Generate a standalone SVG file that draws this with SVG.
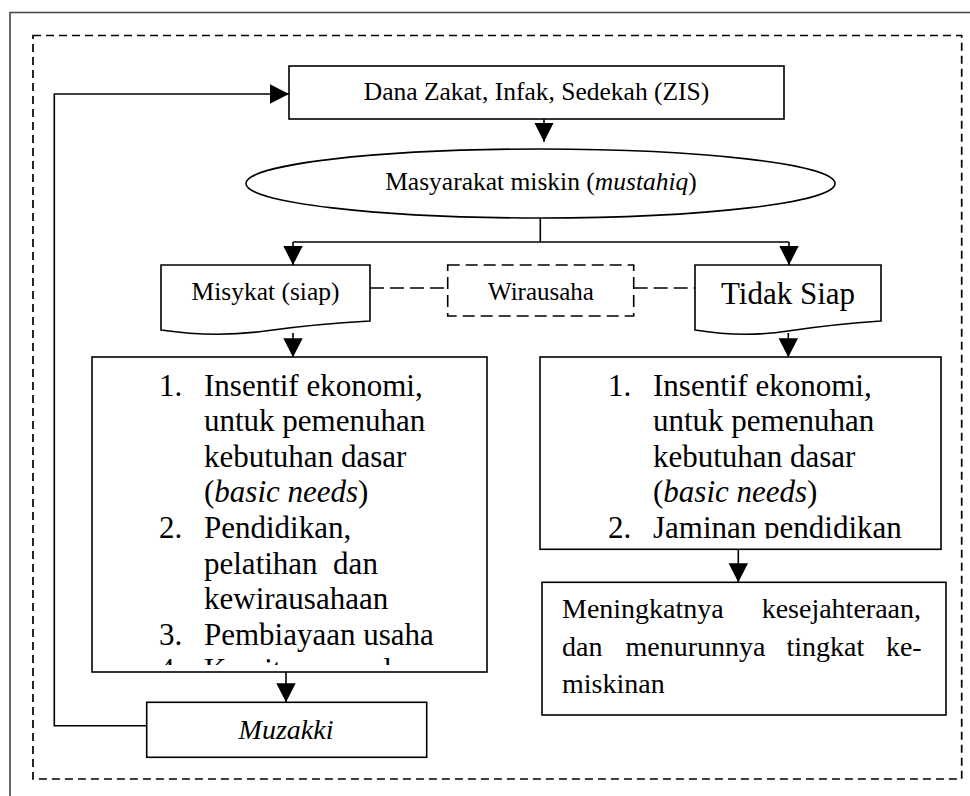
<svg xmlns="http://www.w3.org/2000/svg" width="970" height="796" viewBox="0 0 970 796">
<style>
text{font-family:"Liberation Serif","Times New Roman",serif;fill:#000;white-space:pre}
.s{fill:#fff;stroke:#000;stroke-width:1.6}
.c{fill:none;stroke:#000;stroke-width:1.6}
.d{fill:none;stroke:#000;stroke-width:1.6;stroke-dasharray:14 6}
.f25{font-size:25.5px}
.f31{font-size:31px}
.f28{font-size:28px}
.m{text-anchor:middle}
.e{text-anchor:end}
</style>
<defs>
<marker id="ah" markerUnits="userSpaceOnUse" markerWidth="20" markerHeight="20" refX="19" refY="9.7" orient="auto">
<path d="M0,0 L19,9.7 L0,19.4 Z" fill="#000"/>
</marker>
<clipPath id="clipL"><rect x="92" y="357" width="395" height="308"/></clipPath>
<clipPath id="clipR"><rect x="540" y="357" width="401" height="181.5"/></clipPath>
</defs>
<rect width="970" height="796" fill="#fff"/>
<path d="M10,800 V12.5 H975" fill="none" stroke="#444" stroke-width="1.6"/>
<rect x="33" y="35.5" width="928.7" height="743.5" fill="none" stroke="#000" stroke-width="1.7" stroke-dasharray="8 5"/>

<g id="connectors">
<path class="c" d="M544,119 V141.7" marker-end="url(#ah)"/>
<path class="c" d="M540.3,218 V242 M293,242 H789"/>
<path class="c" d="M293,242 V265" marker-end="url(#ah)"/>
<path class="c" d="M789,242 V265" marker-end="url(#ah)"/>
<path class="d" d="M370,288 H447.7"/>
<path class="d" d="M633.7,288 H695"/>
<path class="c" d="M293,333 V357.3" marker-end="url(#ah)"/>
<path class="c" d="M788.3,333 V357.3" marker-end="url(#ah)"/>
<path class="c" d="M286,672 V702.3" marker-end="url(#ah)"/>
<path class="c" d="M738.3,549.3 V582.3" marker-end="url(#ah)"/>
<path class="c" d="M146.7,725.7 H54.3 V94 H289" marker-end="url(#ah)"/>
</g>

<g id="dana">
<rect class="s" x="289" y="66" width="495" height="53"/>
<text class="f25 m" x="536.5" y="100">Dana Zakat, Infak, Sedekah (ZIS)</text>
</g>

<g id="masyarakat">
<ellipse class="s" cx="540.5" cy="183.5" rx="294.5" ry="34.5"/>
<text class="f25 m" x="541" y="190">Masyarakat miskin (<tspan font-style="italic">mustahiq</tspan>)</text>
</g>

<g id="misykat">
<path class="s" d="M161,330 V265 H370 V321 Q315,324 265,331 Q215,338 161,330 Z"/>
<text class="f25 m" x="265.5" y="299.5">Misykat (siap)</text>
</g>

<g id="wirausaha">
<rect x="447.7" y="265" width="186" height="51" fill="#fff" stroke="#000" stroke-width="1.6" stroke-dasharray="12 6"/>
<text class="m" style="font-size:25px" x="541" y="299.5">Wirausaha</text>
</g>

<g id="tidak-siap">
<path class="s" d="M695,330 V265 H881 V321 Q835,324 788,331 Q743,338 695,330 Z"/>
<text class="f31 m" x="788" y="303.5">Tidak Siap</text>
</g>

<g id="list-left">
<rect class="s" x="92" y="357" width="395" height="315"/>
<g clip-path="url(#clipL)" class="f31">
<text x="159" y="395.5">1.</text>
<text x="204" y="395.5">Insentif ekonomi,</text>
<text x="204" y="431.1">untuk pemenuhan</text>
<text x="204" y="466.7">kebutuhan dasar</text>
<text x="204" y="502.3">(<tspan font-style="italic">basic needs</tspan>)</text>
<text x="159" y="537.9">2.</text>
<text x="204" y="537.9">Pendidikan,</text>
<text x="204" y="573.5">pelatihan  dan</text>
<text x="204" y="609.1">kewirausahaan</text>
<text x="159" y="644.7">3.</text>
<text x="204" y="644.7">Pembiayaan usaha</text>
<text x="159" y="680.3">4.</text>
<text x="204" y="680.3">Kemitraan usaha</text>
</g>
</g>

<g id="list-right">
<rect class="s" x="540" y="357" width="401" height="192.3"/>
<g clip-path="url(#clipR)" class="f31">
<text x="608" y="395.5">1.</text>
<text x="653" y="395.5">Insentif ekonomi,</text>
<text x="653" y="431.1">untuk pemenuhan</text>
<text x="653" y="466.7">kebutuhan dasar</text>
<text x="653" y="502.3">(<tspan font-style="italic">basic needs</tspan>)</text>
<text x="608" y="537.9">2.</text>
<text x="653" y="537.9">Jaminan pendidikan</text>
</g>
</g>

<g id="meningkatnya">
<rect class="s" x="542" y="582.3" width="404" height="132.7"/>
<g class="f28">
<text x="562" y="618.3">Meningkatnya</text>
<text class="e" x="921" y="618.3">kesejahteraan,</text>
<text x="562" y="655.5">dan</text>
<text x="625.5" y="655.5">menurunnya</text>
<text x="786.5" y="655.5">tingkat</text>
<text class="e" x="921.7" y="655.5">ke-</text>
<text x="562" y="693.3">miskinan</text>
</g>
</g>

<g id="muzakki">
<rect class="s" x="146.7" y="702.3" width="280" height="55"/>
<text class="f28 m" font-style="italic" x="286" y="738.5">Muzakki</text>
</g>
</svg>
